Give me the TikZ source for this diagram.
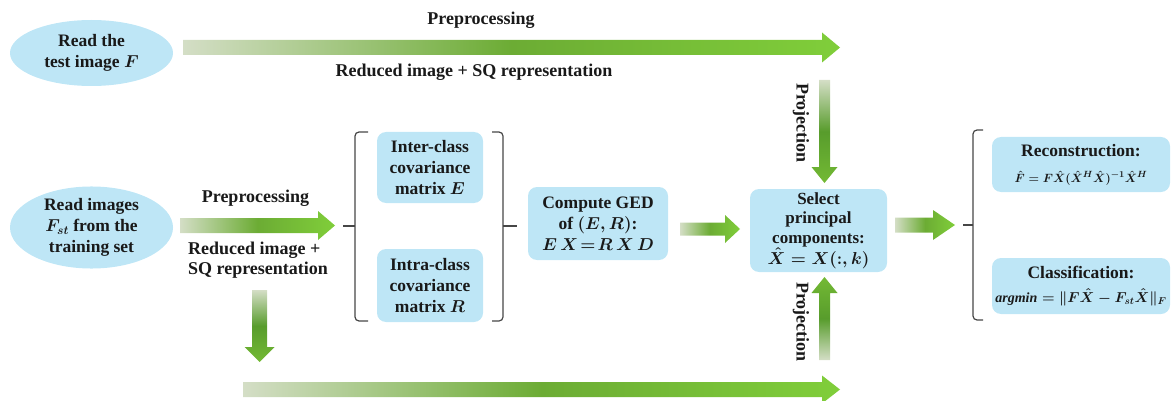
\documentclass[tikz,border=0pt]{standalone}
\usepackage{fontspec}
\setmainfont{Liberation Serif}
\usetikzlibrary{shapes.geometric,calc}

\definecolor{boxblue}{RGB}{190,230,246}
\definecolor{apale}{RGB}{212,222,198}
\definecolor{amid}{RGB}{108,172,52}
\definecolor{adark}{RGB}{88,156,44}
\definecolor{abright}{RGB}{128,206,58}
\definecolor{brkgray}{RGB}{70,70,70}

\tikzset{
  txt/.style={font=\fontsize{18}{21}\selectfont\bfseries\boldmath, text=black!90, inner sep=0pt},
  box/.style={txt, font=\fontsize{17.5}{21}\selectfont\bfseries\boldmath, rectangle, rounded corners=9pt, fill=boxblue, align=center},
  oval/.style={txt, font=\fontsize{17.5}{21}\selectfont\bfseries\boldmath, ellipse, fill=boxblue, align=center},
  brk/.style={draw=brkgray, line width=1.2pt, rounded corners=4pt},
  hshade/.style={left color=apale, right color=abright, middle color=amid},
  dshade/.style={top color=apale, bottom color=abright!90!black, middle color=adark},
  ushade/.style={top color=abright!90!black, bottom color=apale, middle color=adark}
}

\newcommand{\rblock}[6]{\shade[#6] ($(#1)+(0,-#3)$) -- ($(#2)+(-#5,-#3)$) -- ($(#2)+(-#5,-#4)$) -- (#2) -- ($(#2)+(-#5,#4)$) -- ($(#2)+(-#5,#3)$) -- ($(#1)+(0,#3)$) -- cycle;}
\newcommand{\dblock}[6]{\shade[#6] ($(#1)+(-#3,0)$) -- ($(#2)+(-#3,-#5)$) -- ($(#2)+(-#4,-#5)$) -- (#2) -- ($(#2)+(#4,-#5)$) -- ($(#2)+(#3,-#5)$) -- ($(#1)+(#3,0)$) -- cycle;}
\newcommand{\ublock}[6]{\shade[#6] ($(#1)+(-#3,0)$) -- ($(#2)+(-#3,#5)$) -- ($(#2)+(-#4,#5)$) -- (#2) -- ($(#2)+(#4,#5)$) -- ($(#2)+(#3,#5)$) -- ($(#1)+(#3,0)$) -- cycle;}

\begin{document}
\begin{tikzpicture}[x=1pt,y=-1pt]
\useasboundingbox (0,0) rectangle (1175,401);

\node[oval, minimum width=163, minimum height=66] (testimg) at (91.5,53) {Read the\\test image $F$};
\node[oval, minimum width=163, minimum height=71] (trainimg) at (91.5,227.5) {Read images\\$F_{st}$ from the\\training set};

\node[box, minimum width=106, minimum height=71] (inter) at (430,167.5) {Inter-class\\covariance\\matrix $E$};
\node[box, minimum width=106, minimum height=73] (intra) at (430,285.5) {Intra-class\\covariance\\matrix $R$};
\node[box, minimum width=140, minimum height=73] (ged) at (598,223.5) {Compute GED\\of $(E,R)$:\\$E\,X\!=\!R\,X\,D$};
\node[box, font=\fontsize{17}{19.5}\selectfont\bfseries\boldmath, minimum width=137, minimum height=83] (select) at (818.5,230.5) {Select\\principal\\components:\\$\hat{X}=X(:,k)$};
\node[box, minimum width=178, minimum height=55] (recon) at (1081,164.5) {Reconstruction:\\[5pt]{\fontsize{13}{14}\selectfont $\hat{F}=F\hat{X}(\hat{X}^{H}\hat{X})^{-1}\hat{X}^{H}$}};
\node[box, minimum width=178, minimum height=56] (classif) at (1081,286) {Classification:\\[3pt]{\fontsize{14}{16}\selectfont $\mathit{argmin}=\|F\hat{X}-F_{st}\hat{X}\|_{F}$}};

\node[txt] (prep1) at (481,20) {Preprocessing};
\node[txt] (red1) at (474,72) {Reduced image + SQ representation};
\node[txt] (prep2) at (255.5,198) {Preprocessing};
\node[txt, align=left, font=\fontsize{18}{20}\selectfont\bfseries] (red2) at (258,260) {Reduced image +\\SQ representation};
\node[txt, rotate=-90] (proj1) at (801,123) {Projection};
\node[txt, rotate=-90] (proj2) at (801,322) {Projection};

\coordinate (t1) at (183,47.5);
\coordinate (t2) at (840,47.5);
\coordinate (m1) at (180,225.5);
\coordinate (m2) at (335,225.5);
\coordinate (g1) at (680,229);
\coordinate (g2) at (740,229);
\coordinate (s1) at (895,225);
\coordinate (s2) at (955,225);
\coordinate (d1) at (259.5,290);
\coordinate (d2) at (259.5,362);
\coordinate (b1) at (243,389.5);
\coordinate (b2) at (840,389.5);
\coordinate (p1) at (824.5,80);
\coordinate (p2) at (824.5,183);
\coordinate (q1) at (824.5,360);
\coordinate (q2) at (824.5,277);

\rblock{t1}{t2}{7.5}{15}{18}{hshade}
\rblock{m1}{m2}{7.5}{14.5}{17}{hshade}
\rblock{g1}{g2}{6.5}{14}{15}{hshade}
\rblock{s1}{s2}{7.5}{15}{22}{hshade}
\rblock{b1}{b2}{7.5}{14}{18}{hshade}
\dblock{d1}{d2}{7.5}{15}{15}{dshade}
\dblock{p1}{p2}{5.5}{13}{16}{dshade}
\ublock{q1}{q2}{5.5}{13}{16}{ushade}

\draw[brk] (368,132) -- (355,132) -- (355,321) -- (368,321);
\draw[brkgray, line width=1.2pt] (355,226) -- (343,226);
\draw[brk] (492,132) -- (503,132) -- (503,321) -- (492,321);
\draw[brkgray, line width=1.2pt] (503,226) -- (517,226);
\draw[brk] (983,130) -- (973,130) -- (973,320) -- (983,320);
\draw[brkgray, line width=1.2pt] (973,225) -- (963,225);
\end{tikzpicture}
\end{document}
